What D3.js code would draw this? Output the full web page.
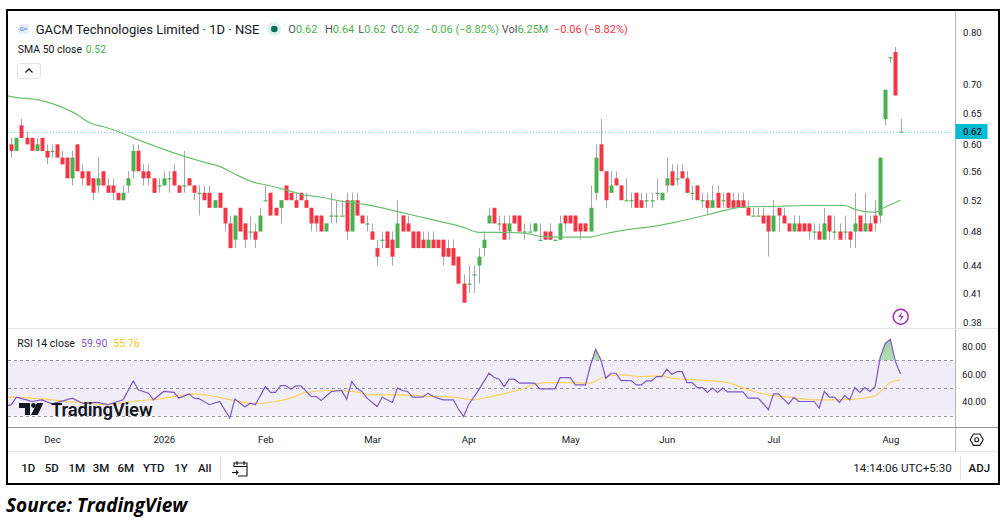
<!DOCTYPE html>
<html>
<head>
<meta charset="utf-8">
<script src="https://cdn.jsdelivr.net/npm/d3@7"></script>
<style>
body { margin: 0; background: #fff; }
svg { display: block; font-family: Roboto, "Noto Sans", sans-serif; }
</style>
</head>
<body>
<svg id="chart" width="1005" height="524"></svg>
<script>

// Daily candles, GACM Technologies (NSE)
var opens = [
	0.60,0.59,0.63,0.61,0.61,0.59,0.61,0.59,0.59,0.60,0.58,0.58,0.55,0.60,0.56,0.56,0.55,0.54,0.56,0.54,
	0.54,0.53,0.52,0.54,0.56,0.59,0.56,0.56,0.55,0.54,0.54,0.55,0.56,0.54,0.54,0.55,0.54,0.53,0.53,0.53,
	0.51,0.53,0.51,0.49,0.47,0.51,0.49,0.48,0.48,0.48,0.52,0.53,0.51,0.51,0.54,0.53,0.52,0.53,0.52,0.51,
	0.50,0.50,0.48,0.50,0.50,0.50,0.52,0.48,0.52,0.50,0.49,0.48,0.46,0.47,0.48,0.47,0.46,0.50,0.49,0.48,
	0.48,0.47,0.46,0.47,0.47,0.47,0.46,0.46,0.45,0.42,0.42,0.43,0.44,0.46,0.49,0.51,0.49,0.49,0.48,0.50,
	0.50,0.48,0.48,0.48,0.47,0.48,0.48,0.47,0.47,0.50,0.50,0.50,0.49,0.49,0.48,0.53,0.60,0.56,0.53,0.55,
	0.54,0.52,0.52,0.53,0.52,0.52,0.52,0.53,0.52,0.54,0.56,0.55,0.56,0.55,0.53,0.54,0.52,0.52,0.51,0.53,
	0.52,0.53,0.52,0.52,0.52,0.51,0.50,0.50,0.50,0.50,0.48,0.51,0.50,0.49,0.48,0.49,0.49,0.49,0.48,0.48,
	0.47,0.50,0.48,0.48,0.48,0.48,0.48,0.50,0.48,0.49,0.50,0.50,0.64,0.75,0.76,0.62
];
var highs = [
	0.61,0.61,0.64,0.62,0.61,0.61,0.61,0.60,0.60,0.60,0.59,0.58,0.59,0.60,0.57,0.56,0.55,0.58,0.56,0.55,
	0.55,0.53,0.54,0.56,0.60,0.60,0.57,0.57,0.55,0.55,0.56,0.56,0.57,0.54,0.59,0.55,0.54,0.54,0.54,0.54,
	0.52,0.53,0.51,0.50,0.50,0.51,0.49,0.50,0.49,0.51,0.54,0.53,0.51,0.52,0.54,0.53,0.53,0.53,0.53,0.51,
	0.50,0.50,0.49,0.53,0.52,0.52,0.53,0.53,0.53,0.50,0.50,0.49,0.47,0.48,0.48,0.48,0.52,0.50,0.50,0.48,
	0.48,0.48,0.48,0.48,0.47,0.47,0.47,0.47,0.45,0.43,0.44,0.44,0.46,0.48,0.51,0.51,0.50,0.50,0.50,0.50,
	0.50,0.49,0.49,0.49,0.49,0.48,0.49,0.47,0.50,0.50,0.50,0.50,0.49,0.49,0.54,0.60,0.64,0.56,0.56,0.56,
	0.54,0.55,0.53,0.53,0.53,0.53,0.53,0.55,0.53,0.58,0.57,0.57,0.57,0.56,0.54,0.54,0.53,0.53,0.54,0.54,
	0.53,0.53,0.53,0.53,0.53,0.52,0.51,0.51,0.51,0.50,0.52,0.51,0.51,0.49,0.50,0.50,0.49,0.49,0.49,0.49,
	0.51,0.50,0.50,0.49,0.50,0.48,0.53,0.50,0.53,0.50,0.52,0.58,0.69,0.75,0.77,0.64
];
var lows = [
	0.58,0.59,0.61,0.60,0.59,0.59,0.59,0.57,0.58,0.58,0.57,0.55,0.54,0.56,0.54,0.54,0.52,0.53,0.54,0.53,
	0.52,0.52,0.52,0.53,0.55,0.56,0.54,0.54,0.53,0.53,0.54,0.53,0.54,0.53,0.53,0.54,0.52,0.50,0.52,0.51,
	0.51,0.51,0.48,0.46,0.46,0.48,0.46,0.47,0.46,0.48,0.52,0.50,0.50,0.49,0.52,0.52,0.51,0.52,0.51,0.48,
	0.48,0.48,0.48,0.49,0.49,0.50,0.47,0.48,0.50,0.49,0.48,0.47,0.44,0.46,0.46,0.44,0.46,0.48,0.48,0.46,
	0.46,0.46,0.46,0.46,0.46,0.44,0.45,0.44,0.42,0.40,0.41,0.41,0.42,0.45,0.49,0.49,0.48,0.47,0.47,0.49,
	0.48,0.47,0.48,0.48,0.47,0.47,0.47,0.47,0.47,0.48,0.49,0.48,0.47,0.48,0.48,0.52,0.56,0.51,0.53,0.54,
	0.52,0.52,0.51,0.51,0.51,0.51,0.51,0.52,0.52,0.53,0.54,0.54,0.55,0.53,0.52,0.52,0.51,0.50,0.51,0.51,
	0.51,0.51,0.51,0.51,0.51,0.50,0.50,0.50,0.49,0.45,0.48,0.48,0.49,0.48,0.48,0.48,0.48,0.47,0.47,0.47,
	0.47,0.47,0.47,0.47,0.47,0.46,0.46,0.48,0.48,0.48,0.48,0.49,0.63,0.74,0.68,0.62
];
var closes = [
	0.59,0.61,0.61,0.60,0.59,0.60,0.59,0.58,0.59,0.58,0.57,0.55,0.58,0.56,0.55,0.54,0.53,0.55,0.54,0.53,
	0.53,0.52,0.53,0.55,0.59,0.56,0.55,0.55,0.53,0.54,0.55,0.55,0.54,0.53,0.54,0.54,0.53,0.53,0.52,0.51,
	0.52,0.51,0.49,0.46,0.50,0.48,0.47,0.48,0.47,0.50,0.52,0.50,0.50,0.52,0.52,0.52,0.51,0.52,0.51,0.49,
	0.49,0.48,0.49,0.50,0.50,0.50,0.48,0.52,0.50,0.49,0.49,0.47,0.45,0.47,0.46,0.45,0.49,0.48,0.48,0.46,
	0.46,0.46,0.47,0.46,0.46,0.45,0.45,0.44,0.42,0.40,0.42,0.43,0.45,0.47,0.50,0.49,0.49,0.47,0.49,0.49,
	0.48,0.48,0.48,0.49,0.47,0.47,0.47,0.47,0.49,0.49,0.49,0.48,0.48,0.48,0.51,0.58,0.56,0.52,0.54,0.54,
	0.52,0.52,0.52,0.51,0.51,0.52,0.52,0.53,0.53,0.55,0.54,0.55,0.55,0.53,0.53,0.52,0.52,0.51,0.52,0.51,
	0.52,0.51,0.51,0.51,0.51,0.50,0.50,0.50,0.49,0.48,0.50,0.50,0.49,0.48,0.49,0.48,0.48,0.48,0.48,0.47,
	0.49,0.48,0.48,0.47,0.48,0.47,0.49,0.48,0.49,0.48,0.49,0.58,0.69,0.75,0.68,0.62
];

// first bar of each month on the time axis
var monthIdx = [8, 30, 50, 71, 90, 110, 129, 150, 173];
var monthLabels = ["Dec", "2026", "Feb", "Mar", "Apr", "May", "Jun", "Jul", "Aug"];

var priceTicks = [0.80, 0.70, 0.65, 0.60, 0.56, 0.52, 0.48, 0.44, 0.41, 0.38];
var lastPrice = 0.62;

// SMA 50 close, [bar, value]
var sma = [
	[-1,0.680],[0,0.678],[6,0.671],[12,0.652],[16,0.632],[18,0.628],[21,0.620],[24,0.610],[28,0.598],
	[32,0.587],[38,0.573],[41,0.567],[44,0.556],[48,0.544],[50,0.541],[54,0.534],[57,0.528],[61,0.524],
	[64,0.520],[69,0.515],[73,0.510],[76,0.505],[78,0.502],[82,0.496],[86,0.490],[89,0.485],[92,0.479],
	[95,0.479],[101,0.478],[104,0.474],[107,0.473],[114,0.473],[116,0.476],[120,0.481],[127,0.487],
	[131,0.492],[137,0.501],[142,0.509],[144,0.511],[151,0.512],[157,0.513],[164,0.513],[166,0.508],
	[170,0.504],[172,0.511],[175,0.520]
];

// RSI 14 close, [bar, value]
var rsi = [
	[-1,37.0],[0,37.9],[1,43.3],[3,41.4],[4,40.2],[6,41.4],[8,38.5],[10,40.5],[12,42.6],[14,39.0],
	[17,39.5],[19,37.9],[22,41.4],[24,55.0],[25,48.6],[27,46.2],[28,41.4],[30,47.4],[32,46.7],[33,42.6],
	[35,45.7],[36,42.6],[37,42.1],[39,37.9],[41,40.2],[43,28.3],[44,41.9],[46,36.2],[47,39.0],[48,37.9],
	[50,50.9],[51,46.7],[52,46.7],[53,51.6],[54,51.6],[55,49.0],[56,51.4],[57,51.4],[59,43.8],[60,43.8],
	[61,40.9],[63,47.4],[65,48.1],[66,41.9],[67,54.5],[68,49.8],[69,47.4],[70,42.6],[72,36.6],[73,43.3],
	[75,39.5],[76,49.8],[77,48.1],[78,47.4],[79,43.3],[81,43.3],[82,46.2],[83,43.8],[85,41.4],[87,41.4],
	[88,34.8],[89,29.5],[90,37.9],[92,48.6],[94,60.5],[95,57.6],[96,56.2],[97,50.9],[98,56.2],[99,56.2],
	[100,53.4],[103,53.4],[104,49.3],[107,49.3],[108,57.4],[110,57.4],[111,52.1],[113,52.1],[114,66.4],
	[115,77.6],[116,70.5],[117,56.9],[118,60.5],[119,60.5],[120,55.2],[122,55.2],[123,52.1],[124,52.1],
	[125,55.0],[126,55.0],[127,58.1],[128,58.1],[129,63.4],[130,59.8],[131,61.6],[132,61.6],[133,53.8],
	[134,53.8],[135,50.2],[136,50.2],[137,46.7],[138,49.8],[139,46.7],[140,49.8],[141,47.1],[144,47.1],
	[145,42.6],[147,42.6],[148,38.6],[149,34.3],[150,45.7],[151,45.7],[152,41.9],[153,38.4],[154,43.1],
	[155,40.2],[158,40.2],[159,35.5],[160,47.4],[161,43.3],[162,43.3],[163,39.5],[164,44.5],[165,41.4],
	[166,50.2],[167,46.7],[168,50.2],[169,47.4],[170,50.9],[171,71.9],[172,81.9],[173,84.8],[174,68.8],
	[175,59.9]
];

// RSI-based MA
var rsiMa = [
	[-1,43.4],[0,43.3],[4,42.6],[8,41.4],[11,40.2],[14,39.5],[18,37.9],[21,38.6],[25,40.7],[29,41.9],
	[33,44.3],[36,45.7],[40,43.8],[44,40.9],[48,38.6],[52,40.2],[55,42.6],[58,46.7],[63,48.1],[67,47.4],
	[71,45.0],[76,45.0],[83,43.8],[87,43.3],[91,41.4],[94,43.3],[96,45.0],[100,48.6],[105,53.8],[109,53.8],
	[114,53.4],[116,56.9],[120,59.3],[124,58.1],[128,58.6],[130,56.9],[135,55.7],[141,53.8],[145,48.6],
	[149,45.0],[153,43.3],[158,41.4],[162,41.4],[166,41.9],[170,44.3],[172,50.9],[173,53.8],[175,55.76]
];
var rsiTicks = [80, 60, 40];
var rsiLevels = [70, 50, 30];

var headerLabels = ["O", "H", "L", "C", "", "Vol", ""];
var headerValues = ["0.62", "0.64", "0.62", "0.62", "\u22120.06 (\u22128.82%)", "6.25M", "\u22120.06 (\u22128.82%)"];
var rangeButtons = ["1D", "5D", "1M", "3M", "6M", "YTD", "1Y", "All"];


var svg = d3.select("#chart");

var upColor = "#4caf50",
	downColor = "#f23645",
	wickColor = "#a3a6ad",
	textColor = "#131722",
	lineGray = "#e0e3eb",
	rsiColor = "#7e57c2",
	maColor = "#f7d35c";

var plotLeft = 8, plotRight = 955;
var priceTop = 11, priceBottom = 328;
var rsiTop = 328, rsiBottom = 428;

var x = d3.scaleLinear()
	.domain([0, closes.length - 1])
	.range([11.3, 900.5]);

var y = d3.scaleLog()
	.domain([0.38, 0.80])
	.range([322.7, 32]);

var yR = d3.scaleLinear()
	.domain([30, 70])
	.range([415.7, 360]);

var defs = svg.append("defs");

defs.append("clipPath").attr("id", "clipPrice")
	.append("rect")
	.attr("x", plotLeft).attr("y", priceTop)
	.attr("width", plotRight - plotLeft).attr("height", priceBottom - priceTop);

defs.append("clipPath").attr("id", "clipRsi")
	.append("rect")
	.attr("x", plotLeft).attr("y", rsiTop + 1)
	.attr("width", plotRight - plotLeft).attr("height", rsiBottom - rsiTop - 2);

defs.append("clipPath").attr("id", "clipOver")
	.append("rect")
	.attr("x", plotLeft).attr("y", rsiTop + 1)
	.attr("width", plotRight - plotLeft).attr("height", yR(70) - rsiTop - 1);

var grad = defs.append("linearGradient").attr("id", "overGrad")
	.attr("x1", 0).attr("y1", 0).attr("x2", 0).attr("y2", 1);
grad.append("stop").attr("offset", "0%").attr("stop-color", upColor).attr("stop-opacity", 0.55);
grad.append("stop").attr("offset", "100%").attr("stop-color", upColor).attr("stop-opacity", 0.08);

// ---- Price pane ----

var price = svg.append("g").attr("clip-path", "url(#clipPrice)");

// last price dotted line
price.append("line")
	.attr("x1", plotLeft).attr("x2", plotRight)
	.attr("y1", Math.round(y(lastPrice)) + 0.5).attr("y2", Math.round(y(lastPrice)) + 0.5)
	.style("stroke", "#7fd3e0")
	.style("stroke-width", 1)
	.style("stroke-dasharray", "1,2");

var bars = d3.range(closes.length).map(function (i) {
	return { i: i, o: opens[i], h: highs[i], l: lows[i], c: closes[i] };
});

price.selectAll("line.wick")
	.data(bars)
	.enter().append("line")
	.attr("class", "wick")
	.attr("x1", function (d) { return Math.round(x(d.i)) + 0.5; })
	.attr("x2", function (d) { return Math.round(x(d.i)) + 0.5; })
	.attr("y1", function (d) { return y(d.h); })
	.attr("y2", function (d) { return y(d.l); })
	.style("stroke", wickColor)
	.style("stroke-width", 1);

price.selectAll("rect.body")
	.data(bars)
	.enter().append("rect")
	.attr("class", "body")
	.attr("x", function (d) { return Math.round(x(d.i)) - 1.5; })
	.attr("width", 4)
	.attr("y", function (d) { return y(Math.max(d.o, d.c)); })
	.attr("height", function (d) { return Math.max(1.2, Math.abs(y(d.o) - y(d.c))); })
	.style("fill", function (d) { return d.c >= d.o ? upColor : downColor; });

var smaLine = d3.line()
	.x(function (d) { return x(d[0]); })
	.y(function (d) { return y(d[1]); })
	.curve(d3.curveMonotoneX);

price.append("path")
	.datum(sma)
	.attr("d", smaLine)
	.style("fill", "none")
	.style("stroke", "#6cc070")
	.style("stroke-width", 1.2);

// ---- RSI pane ----

var rsiG = svg.append("g").attr("clip-path", "url(#clipRsi)");

rsiG.append("rect")
	.attr("x", plotLeft).attr("width", plotRight - plotLeft)
	.attr("y", yR(70)).attr("height", yR(30) - yR(70))
	.style("fill", "#7e57c2")
	.style("fill-opacity", 0.1);

rsiG.selectAll("line.level")
	.data(rsiLevels)
	.enter().append("line")
	.attr("class", "level")
	.attr("x1", plotLeft).attr("x2", plotRight)
	.attr("y1", function (d) { return Math.round(yR(d)) + 0.5; })
	.attr("y2", function (d) { return Math.round(yR(d)) + 0.5; })
	.style("stroke", "#9598a1")
	.style("stroke-width", 1)
	.style("stroke-dasharray", "3,3");

var overArea = d3.area()
	.x(function (d) { return x(d[0]); })
	.y0(yR(70))
	.y1(function (d) { return yR(d[1]); });

rsiG.append("g").attr("clip-path", "url(#clipOver)")
	.append("path")
	.datum(rsi)
	.attr("d", overArea)
	.style("fill", "url(#overGrad)");

var rsiLine = d3.line()
	.x(function (d) { return x(d[0]); })
	.y(function (d) { return yR(d[1]); });

rsiG.append("path")
	.datum(rsiMa)
	.attr("d", rsiLine.curve(d3.curveMonotoneX))
	.style("fill", "none")
	.style("stroke", maColor)
	.style("stroke-width", 1.2);

rsiG.append("path")
	.datum(rsi)
	.attr("d", d3.line()
		.x(function (d) { return x(d[0]); })
		.y(function (d) { return yR(d[1]); }))
	.style("fill", "none")
	.style("stroke", rsiColor)
	.style("stroke-width", 1.2);

// TradingView watermark
var wm = svg.append("g").attr("transform", "translate(19,403)").style("fill", textColor);
wm.append("path").attr("d", "M0 0h11v12h-5v-7h-6z");
wm.append("circle").attr("cx", 14.5).attr("cy", 2.5).attr("r", 2.4);
wm.append("path").attr("d", "M18 0h6.5l-6 12h-6.5z");
wm.append("text")
	.attr("x", 32).attr("y", 12.5)
	.style("font-size", "18.5px")
	.style("font-weight", 600)
	.style("letter-spacing", "-0.2px")
	.text("TradingView");

// ---- Frame lines ----

svg.append("line")
	.attr("x1", plotRight + 0.5).attr("x2", plotRight + 0.5)
	.attr("y1", 10).attr("y2", 451)
	.style("stroke", "#b2b5be");

svg.append("line")
	.attr("x1", plotLeft).attr("x2", 999)
	.attr("y1", rsiTop + 0.5).attr("y2", rsiTop + 0.5)
	.style("stroke", lineGray);

svg.append("line")
	.attr("x1", plotLeft).attr("x2", 999)
	.attr("y1", rsiBottom - 0.5).attr("y2", rsiBottom - 0.5)
	.style("stroke", "#9598a1");

svg.append("line")
	.attr("x1", plotLeft).attr("x2", 999)
	.attr("y1", 451.5).attr("y2", 451.5)
	.style("stroke", lineGray);

// ---- Axes ----

var priceAxis = svg.append("g")
	.attr("transform", "translate(" + plotRight + ",0)")
	.call(d3.axisRight(y).tickValues(priceTicks).tickSize(0).tickPadding(8).tickFormat(d3.format(".2f")));

var rsiAxis = svg.append("g")
	.attr("transform", "translate(" + plotRight + ",0)")
	.call(d3.axisRight(yR).tickValues(rsiTicks).tickSize(0).tickPadding(7).tickFormat(d3.format(".2f")));

var timeAxis = svg.append("g")
	.attr("transform", "translate(0," + rsiBottom + ")")
	.call(d3.axisBottom(x).tickValues(monthIdx).tickSize(0).tickPadding(8)
		.tickFormat(function (d, i) { return monthLabels[i]; }));

[priceAxis, rsiAxis, timeAxis].forEach(function (g) {
	g.select(".domain").remove();
	g.selectAll("text")
		.style("font-family", "Roboto, sans-serif")
		.style("font-size", "9.6px")
		.style("fill", textColor);
});

// last price tag
svg.append("rect")
	.attr("x", plotRight + 0.5).attr("width", 32)
	.attr("y", y(lastPrice) - 7.5).attr("height", 15)
	.style("fill", "#00bcd4");
svg.append("text")
	.attr("x", plotRight + 8).attr("y", y(lastPrice))
	.attr("dy", "0.35em")
	.style("font-size", "9.6px")
	.style("font-weight", 500)
	.style("fill", textColor)
	.text(d3.format(".2f")(lastPrice));

// ---- Legends ----

var logo = svg.append("g").attr("transform", "translate(18,24)");
logo.append("rect").attr("width", 11).attr("height", 10).attr("rx", 2).style("fill", "#e3eefb");
logo.append("text").attr("x", 5.5).attr("y", 7.2)
	.attr("text-anchor", "middle")
	.style("font-size", "6px").style("font-weight", 700).style("fill", "#5b8fd6")
	.text("G\u2248");

svg.append("text")
	.attr("x", 35.7).attr("y", 29).attr("dy", "0.35em")
	.style("font-size", "13px")
	.style("fill", textColor)
	.text("GACM Technologies Limited \u00b7 1D \u00b7 NSE");

svg.append("circle").attr("cx", 274.3).attr("cy", 29).attr("r", 7).style("fill", "#dff1ec");
svg.append("circle").attr("cx", 274.3).attr("cy", 29).attr("r", 3.3).style("fill", "#0b6e56");

var headerX = [288.3, 325, 358.3, 390.7, 425, 501.7, 554];
headerLabels.forEach(function (lab, i) {
	var t = svg.append("text")
		.attr("x", headerX[i]).attr("y", 29).attr("dy", "0.35em")
		.style("font-size", "11px");
	t.append("tspan").style("fill", "#50535e").text(lab);
	t.append("tspan").style("fill", i == headerLabels.length - 1 ? downColor : upColor).text(headerValues[i]);
});

svg.append("text")
	.attr("x", 17.7).attr("y", 49).attr("dy", "0.35em")
	.style("font-size", "10.5px").style("fill", textColor)
	.text("SMA 50 close");
svg.append("text")
	.attr("x", 85.7).attr("y", 49).attr("dy", "0.35em")
	.style("font-size", "10.5px").style("fill", upColor)
	.text(d3.format(".2f")(sma[sma.length - 1][1]));

svg.append("rect")
	.attr("x", 17.5).attr("y", 63.5).attr("width", 23).attr("height", 15).attr("rx", 2.5)
	.style("fill", "#fff").style("stroke", lineGray);
svg.append("path")
	.attr("d", "M25.5 72.5l3.5-3.5l3.5 3.5")
	.style("fill", "none").style("stroke", textColor).style("stroke-width", 1.3);

svg.append("text")
	.attr("x", 17.3).attr("y", 343.3).attr("dy", "0.35em")
	.style("font-size", "10.5px").style("fill", textColor)
	.text("RSI 14 close");
svg.append("text")
	.attr("x", 81).attr("y", 343.3).attr("dy", "0.35em")
	.style("font-size", "10.5px").style("fill", rsiColor)
	.text(d3.format(".2f")(rsi[rsi.length - 1][1]));
svg.append("text")
	.attr("x", 113.3).attr("y", 343.3).attr("dy", "0.35em")
	.style("font-size", "10.5px").style("fill", "#f5c518")
	.text(d3.format(".2f")(rsiMa[rsiMa.length - 1][1]));

// lightning badge
svg.append("circle").attr("cx", 900.7).attr("cy", 316.7).attr("r", 7.5)
	.style("fill", "#fff").style("stroke", "#9c27b0").style("stroke-width", 1.4);
svg.append("path")
	.attr("d", "M902.5 311.5l-4.2 5.6h3l-1.8 4.6l4.2-5.6h-3z")
	.style("fill", "#9c27b0");

// settings icon
svg.append("path")
	.attr("d", d3.range(6).map(function (k) {
		var a = Math.PI / 3 * k;
		return (k ? "L" : "M") + (976.7 + 6.5 * Math.cos(a)).toFixed(2) + " " + (439.7 + 6.5 * Math.sin(a)).toFixed(2);
	}).join("") + "Z")
	.style("fill", "none").style("stroke", textColor).style("stroke-width", 1.1);
svg.append("circle").attr("cx", 976.7).attr("cy", 439.7).attr("r", 2)
	.style("fill", "none").style("stroke", textColor).style("stroke-width", 1.1);

// ---- Bottom toolbar ----

var buttonX = [28.3, 51.7, 76.7, 101, 125.7, 153.7, 181, 204.7];
svg.selectAll("text.range")
	.data(rangeButtons)
	.enter().append("text")
	.attr("class", "range")
	.attr("x", function (d, i) { return buttonX[i]; })
	.attr("y", 467.7).attr("dy", "0.35em")
	.attr("text-anchor", "middle")
	.style("font-size", "11.5px")
	.style("font-weight", 500)
	.style("fill", textColor)
	.text(function (d) { return d; });

svg.append("line").attr("x1", 220.5).attr("x2", 220.5).attr("y1", 456).attr("y2", 480).style("stroke", lineGray);
svg.append("line").attr("x1", 960.5).attr("x2", 960.5).attr("y1", 456).attr("y2", 480).style("stroke", lineGray);

var cal = svg.append("g").attr("transform", "translate(232,460)")
	.style("fill", "none").style("stroke", textColor).style("stroke-width", 1.1);
cal.append("path").attr("d", "M2 7V3h13v13H6");
cal.append("path").attr("d", "M2 6.5h13M5 1v4M12 1v4");
cal.append("path").attr("d", "M0 12.5h6M4 10.5l2 2l-2 2");

svg.append("text")
	.attr("x", 951.7).attr("y", 467.7).attr("dy", "0.35em")
	.attr("text-anchor", "end")
	.style("font-size", "11.6px")
	.style("fill", textColor)
	.text("14:14:06 UTC+5:30");

svg.append("text")
	.attr("x", 979.3).attr("y", 467.7).attr("dy", "0.35em")
	.attr("text-anchor", "middle")
	.style("font-size", "11.5px")
	.style("font-weight", 500)
	.style("fill", textColor)
	.text("ADJ");

// outer frame
svg.append("rect")
	.attr("x", 7).attr("y", 10).attr("width", 992).attr("height", 474)
	.style("fill", "none").style("stroke", "#000").style("stroke-width", 2);

svg.append("text")
	.attr("x", 6).attr("y", 512)
	.style("font-family", "'Open Sans', sans-serif")
	.style("font-size", "19px")
	.style("font-weight", 700)
	.style("font-style", "italic")
	.style("fill", "#000")
	.text("Source: TradingView");

</script>
</body>
</html>
